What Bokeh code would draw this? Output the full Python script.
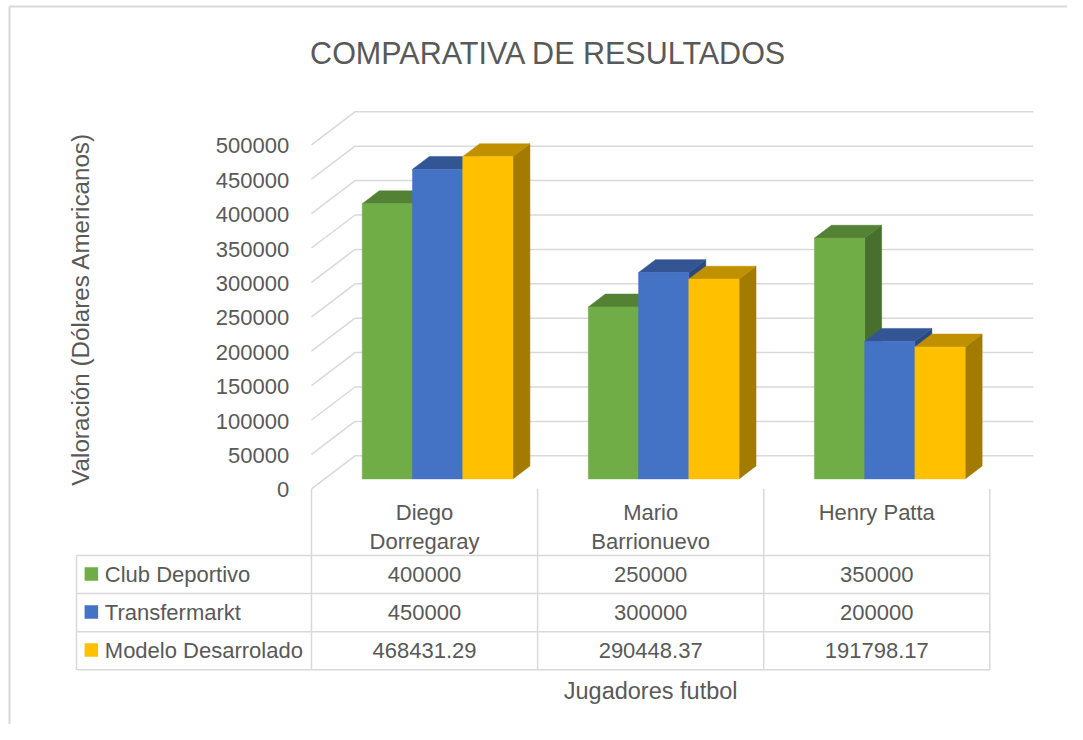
import math
from bokeh.plotting import figure
from bokeh.models import Range1d
from bokeh.core.properties import value
from bokeh.embed import file_html
from bokeh.resources import INLINE

# ---------------- data ----------------
chart_title = "COMPARATIVA DE RESULTADOS"
y_title = "Valoración (Dólares Americanos)"
x_title = "Jugadores futbol"
categories = ["Diego\nDorregaray", "Mario\nBarrionuevo", "Henry Patta"]
series_names = ["Club Deportivo", "Transfermarkt", "Modelo Desarrolado"]
club_deportivo = [400000, 250000, 350000]
transfermarkt = [450000, 300000, 200000]
modelo_desarrolado = [468431.29, 290448.37, 191798.17]
y_ticks = [0, 50000, 100000, 150000, 200000, 250000, 300000, 350000, 400000, 450000, 500000]

series_values = [club_deportivo, transfermarkt, modelo_desarrolado]
front_colors = ["#70AD47", "#4472C4", "#FFC000"]
top_colors = ["#548235", "#335593", "#BF9000"]
side_colors = ["#486F2D", "#2C497D", "#A37B00"]

# ---------------- layout (figure pixels) ----------------
W, H = 1067, 724
COL_PX = 226.1          # width of one category column
X0_PX = 311.0           # left edge of first category column
Y0_PX = 488.3           # value 0 on the front plane
PX_PER_UNIT = 34.4 / 50000.0
DEPTH_DX_PX, DEPTH_DY_PX = 43.5, 33.0
D_FRONT, D_BACK = 0.30, 0.69
GAP = 1.5               # gap width (fraction of bar width)

TXT = "#595959"
GRID = "#D9D9D9"
FONT = value("Liberation Sans")
BL = 0.35               # text anchor sits this many em above the baseline

upp = 1.0 / PX_PER_UNIT
DX = DEPTH_DX_PX / COL_PX
DY = DEPTH_DY_PX * upp
ncat = len(categories)
nser = len(series_values)

p = figure(width=W, height=H,
           x_range=Range1d(-X0_PX / COL_PX, (W - X0_PX) / COL_PX),
           y_range=Range1d(-(H - Y0_PX) * upp, Y0_PX * upp),
           output_backend="svg", toolbar_location=None, min_border=0,
           x_axis_location=None, y_axis_location=None,
           background_fill_color="white", border_fill_color="white")
p.outline_line_color = None
p.grid.visible = False
p.extra_x_ranges = {"px": Range1d(0, W)}
p.extra_y_ranges = {"px": Range1d(H, 0)}

# outer chart border
p.segment(x0=[9, 9], y0=[6, 6], x1=[9, W], y1=[H, 6],
          line_color=GRID, line_width=2, x_range_name="px", y_range_name="px")

# gridlines: side wall diagonal + back wall horizontal
gx = [[0, DX, ncat + DX] for v in y_ticks]
gy = [[v, v + DY, v + DY] for v in y_ticks]
p.multi_line(gx, gy, line_color=GRID, line_width=1.5)

# tick labels (front plane)
fs_tick = 22.0
p.text(x=[-22.3 / COL_PX] * len(y_ticks),
       y=[v - (8.7 - BL * fs_tick) * upp for v in y_ticks],
       text=[str(v) for v in y_ticks], text_align="right", text_baseline="alphabetic",
       text_font=FONT, text_font_size=value(f"{fs_tick}px"), text_color=TXT)

# bars (3D columns)
w = 1.0 / (nser + GAP)
sx, sy, sc = [], [], []
tx, ty, tc = [], [], []
fl, fr, fb, ft, fc = [], [], [], [], []
for j, vals in enumerate(series_values):
    for i, v in enumerate(vals):
        left = i + 0.5 - nser * w / 2 + j * w
        right = left + w
        sx.append([right + D_FRONT * DX, right + D_BACK * DX, right + D_BACK * DX, right + D_FRONT * DX])
        sy.append([D_FRONT * DY, D_BACK * DY, v + D_BACK * DY, v + D_FRONT * DY])
        sc.append(side_colors[j])
        tx.append([left + D_FRONT * DX, right + D_FRONT * DX, right + D_BACK * DX, left + D_BACK * DX])
        ty.append([v + D_FRONT * DY, v + D_FRONT * DY, v + D_BACK * DY, v + D_BACK * DY])
        tc.append(top_colors[j])
        fl.append(left + D_FRONT * DX)
        fr.append(right + D_FRONT * DX)
        fb.append(D_FRONT * DY)
        ft.append(v + D_FRONT * DY)
        fc.append(front_colors[j])

p.patches(sx, sy, fill_color=sc, line_color=sc, line_width=0.5)
p.patches(tx, ty, fill_color=tc, line_color=tc, line_width=0.5)
p.quad(left=fl, right=fr, bottom=fb, top=ft, fill_color=fc, line_color=fc, line_width=0.5)

# ---------------- data table ----------------
ROW_TOP = 555.0
ROW_H = 38.1
col_bounds = [X0_PX + COL_PX * k for k in range(ncat + 1)]
TABLE_LEFT = 76.0
table_bottom = ROW_TOP + ROW_H * nser
fs_tab = 22.0

hx0 = [TABLE_LEFT] * (nser + 1)
hx1 = [col_bounds[-1]] * (nser + 1)
hy = [ROW_TOP + ROW_H * r for r in range(nser + 1)]
p.segment(x0=hx0, y0=hy, x1=hx1, y1=hy, line_color=GRID, line_width=1.5,
          x_range_name="px", y_range_name="px")
vx = [TABLE_LEFT] + col_bounds
vy0 = [ROW_TOP] + [Y0_PX] * len(col_bounds)
vy1 = [table_bottom] * len(vx)
p.segment(x0=vx, y0=vy0, x1=vx, y1=vy1, line_color=GRID, line_width=1.5,
          x_range_name="px", y_range_name="px")

# category headers
cx, cy, ct = [], [], []
for i, name in enumerate(categories):
    for k, line in enumerate(name.split("\n")):
        cx.append(i + 0.5)
        cy.append(519.3 + 29.0 * k - BL * fs_tab)
        ct.append(line)
p.text(x=cx, y=cy, text=ct, text_align="center", text_baseline="alphabetic",
       text_font=FONT, text_font_size=value(f"{fs_tab}px"), text_color=TXT, y_range_name="px")

def fmt(v):
    return f"{v:.2f}".rstrip("0").rstrip(".")

row_centers = [ROW_TOP + ROW_H * (r + 0.5) for r in range(nser)]
vx_, vy_, vt_ = [], [], []
for j, vals in enumerate(series_values):
    for i, v in enumerate(vals):
        vx_.append(i + 0.5)
        vy_.append(row_centers[j] + 7.7 - BL * fs_tab)
        vt_.append(fmt(v))
p.text(x=vx_, y=vy_, text=vt_, text_align="center", text_baseline="alphabetic",
       text_font=FONT, text_font_size=value(f"{fs_tab}px"), text_color=TXT, y_range_name="px")

# legend keys + series names
p.rect(x=[90.85] * nser, y=[c - 0.65 for c in row_centers], width=13.5, height=13.5,
       fill_color=front_colors, line_color=None, x_range_name="px", y_range_name="px")
p.text(x=[104.3] * nser, y=[c + 7.7 - BL * fs_tab for c in row_centers], text=series_names,
       text_align="left", text_baseline="alphabetic", text_font=FONT,
       text_font_size=value(f"{fs_tab}px"), text_color=TXT, x_range_name="px", y_range_name="px")

# titles
fs_title = 30.5
p.text(x=[548], y=[63.4 - BL * fs_title], text=[chart_title], text_align="center",
       text_baseline="alphabetic", text_font=FONT, text_font_size=value(f"{fs_title}px"),
       text_color=TXT, x_range_name="px", y_range_name="px")
p.text(x=[79.5], y=[308.7], text=[y_title], angle=math.pi / 2, text_align="center",
       text_baseline="alphabetic", text_font=FONT, text_font_size=value("24.2px"),
       text_color=TXT, x_range_name="px", y_range_name="px")
fs_xt = 23.5
p.text(x=[X0_PX + COL_PX * ncat / 2], y=[699.0 - BL * fs_xt], text=[x_title], text_align="center",
       text_baseline="alphabetic", text_font=FONT, text_font_size=value(f"{fs_xt}px"),
       text_color=TXT, x_range_name="px", y_range_name="px")

open("out.html", "w").write(file_html(p, INLINE))
